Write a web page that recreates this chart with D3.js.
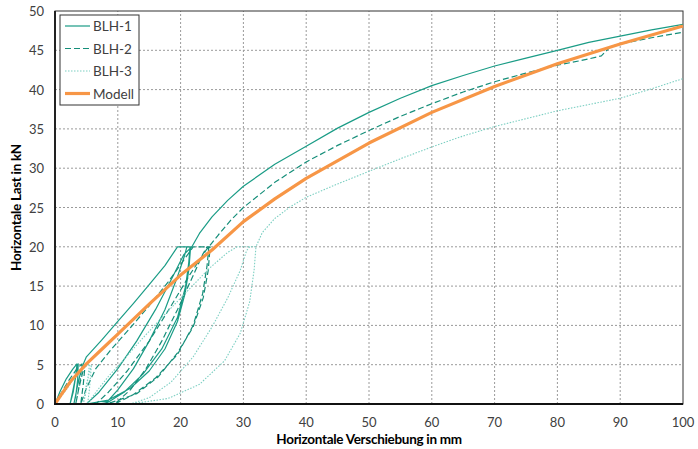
<!DOCTYPE html>
<html><head><meta charset="utf-8">
<script src="https://cdn.jsdelivr.net/npm/d3@7"></script>
<style>body{margin:0;background:#fff}svg text{font-family:Lato,"Open Sans",sans-serif}</style>
</head><body><svg id="c" width="698" height="449"></svg>
<script>
const xTicks = [0,10,20,30,40,50,60,70,80,90,100];
const yTicks = [0,5,10,15,20,25,30,35,40,45,50];
const seriesNames = ["BLH-1","BLH-2","BLH-3","Modell"];
// [displacement mm, load kN]
const blh1 = [[0,0],[0.8,1.6],[1.8,3.2],[2.8,4.4],[3.5,5.1],[3.3,3.5],[2.9,1.5],[2.4,0],
 [2.8,1.5],[3.3,3.5],[3.7,5.1],[3.6,3],[3.3,1],[3,0],
 [3.5,2],[4.2,4.5],[5,6],[7.5,8.2],[10,10.5],[12.5,12.8],[15,15.2],[17.5,17.6],[19.5,20],[21.5,20],
 [21.3,18],[20.8,15],[19.5,11],[17,7],[14,3.8],[11,1.5],[8,0],
 [10,1.8],[12.5,4.5],[15,8],[17.5,12],[19.5,16.2],[20.6,18.8],[21,20],[21.6,20],
 [21.3,17],[20.7,14],[19.5,10.5],[17.5,7],[15,4.2],[12,2],[8.5,0.5],[5,0],
 [7,1.5],[10,4.5],[13,8],[16,12],[18.5,15.8],[20.5,19],[21.8,20],[23,21.7],[25,23.8],[27.5,25.9],[30,27.7],[35,30.5],[40,32.8],[45,35.1],[50,37.1],[55,38.9],[60,40.5],[65,41.8],[70,43],[75,44],[80,45],[85,46],[90,46.8],[95,47.6],[100,48.3]];
const blh2 = [[0,0],[1,1.4],[2.2,3],[3.5,4.5],[4.3,5.1],[4,3],[3.6,1.2],[3.3,0],
 [3.8,2],[4.4,4],[4.8,5],[4.5,2.5],[4.1,0],
 [5,2],[6.5,4.5],[9,7],[12,9.7],[15,12.5],[18,15.5],[20.5,18.3],[22,20],[24.5,20],
 [24.2,17.5],[23.5,14],[22,10],[19.5,6.3],[16,3.3],[12.5,1.2],[9.5,0],
 [12,1.8],[14.5,4.5],[17,8],[19.5,12],[21.8,16],[23.5,19],[24.2,20],[24.7,20],
 [24.4,17],[23.6,13.5],[22,9.8],[19.5,6.5],[16.5,3.5],[13,1.3],[9,0.2],[6.5,0],
 [8.5,1.5],[11.5,4.2],[15,8],[18.5,12.5],[21.5,16.5],[24,19.5],[25,20.5],[26,21.5],[28,23.4],[30,25],[35,28.2],[40,30.8],[45,32.9],[50,34.8],[55,36.6],[60,38.2],[65,39.7],[70,41],[75,42.1],[80,43.1],[85,43.9],[87,44.3],[88.5,45.5],[90,45.8],[95,46.6],[100,47.3]];
const blh3 = [[0,0],[1.5,1.5],[3,3.2],[4.5,4.5],[5.5,5.1],[5.2,3],[4.8,1],[4.5,0],
 [5,2.5],[5.8,5],[5.5,2],[5.2,0],
 [6.5,1.5],[8.5,3.5],[11,5.7],[14,8.4],[17.5,11.4],[21,14.3],[24.5,17.2],[27.5,19.3],[29,20],[32,20],
 [31.7,17],[31,13],[29.5,9],[27,5.5],[23,2.5],[18,0.7],[12,0],
 [15,0.8],[18.5,2.8],[22,6],[25,9.8],[27.5,13.5],[29.5,17],[30.5,19.5],[31,20],[32,20],
 [33,21.8],[35,23.6],[37.5,25.1],[40,26.3],[45,28],[50,29.6],[55,31.2],[60,32.7],[65,34.1],[70,35.3],[75,36.3],[80,37.3],[85,38.1],[90,38.9],[95,40.1],[100,41.4]];
const modell = [[0,0],[1,1.2],[2.5,2.9],[5,5.1],[7.5,7],[10,8.9],[15,12.7],[20,16.4],[25,19.6],[30,23.2],[35,26.1],[40,28.7],[50,33.2],[60,37.1],[70,40.4],[80,43.3],[90,45.8],[100,48.1]];

const svg = d3.select("#c");
const x = d3.scaleLinear().domain([0,100]).range([55,683]);
const y = d3.scaleLinear().domain([0,50]).range([404,11]);

// grid
const g = svg.append("g");
g.selectAll(".vx").data(xTicks.slice(1,-1)).join("line")
 .attr("x1",d=>x(d)).attr("x2",d=>x(d)).attr("y1",y(0)).attr("y2",y(50))
 .attr("stroke","#9a9a9a").attr("stroke-width",1).attr("stroke-dasharray","2,2");
g.selectAll(".hy").data(yTicks.slice(1,-1)).join("line")
 .attr("y1",d=>y(d)).attr("y2",d=>y(d)).attr("x1",x(0)).attr("x2",x(100))
 .attr("stroke","#9a9a9a").attr("stroke-width",1).attr("stroke-dasharray","2,2");

// frame
svg.append("rect").attr("x",x(0)).attr("y",y(50)).attr("width",x(100)-x(0)).attr("height",y(0)-y(50))
 .attr("fill","none").attr("stroke","#333").attr("stroke-width",1);

svg.append("clipPath").attr("id","cp").append("rect").attr("x",x(0)).attr("y",y(50)-2).attr("width",x(100)-x(0)+2).attr("height",y(0)-y(50)+2);

const line = d3.line().x(d=>x(d[0])).y(d=>y(d[1]));
const styles = [
 {data:blh1,color:"#1a9c86",w:1.2,dash:null},
 {data:blh2,color:"#158e79",w:1.2,dash:"6,3"},
 {data:blh3,color:"#7ccfc2",w:1.1,dash:"1.5,1.5"},
 {data:modell,color:"#f79646",w:3.2,dash:null}
];
const pl = svg.append("g").attr("clip-path","url(#cp)");
styles.forEach(s=>{
 pl.append("path").attr("d",line(s.data)).attr("fill","none").attr("stroke",s.color)
  .attr("stroke-width",s.w).attr("stroke-dasharray",s.dash).attr("stroke-linejoin","round");
});

svg.append("line").attr("x1",x(0)).attr("x2",x(0)).attr("y1",y(0)).attr("y2",y(50)).attr("stroke","#222").attr("stroke-width",2);
svg.append("line").attr("x1",x(0)-1).attr("x2",x(100)).attr("y1",y(0)).attr("y2",y(0)).attr("stroke","#111").attr("stroke-width",2);

svg.selectAll(".xl").data(xTicks).join("text").attr("x",d=>x(d)).attr("y",427)
 .attr("text-anchor","middle").attr("font-size",13).attr("fill","#404040").text(d=>d);
svg.selectAll(".yl").data(yTicks).join("text").attr("x",44).attr("y",d=>y(d)+5)
 .attr("text-anchor","end").attr("font-size",13).attr("fill","#404040").text(d=>d);

svg.append("text").attr("x",(x(0)+x(100))/2).attr("y",444).attr("text-anchor","middle")
 .attr("font-size",13.5).attr("font-weight","bold").attr("fill","#000").attr("letter-spacing",-0.3).text("Horizontale Verschiebung in mm");
svg.append("text").attr("transform",`translate(21,${(y(0)+y(50))/2}) rotate(-90)`).attr("text-anchor","middle")
 .attr("font-size",13.5).attr("font-weight","bold").attr("fill","#000").attr("letter-spacing",-0.3).text("Horizontale Last in kN");

const lg = svg.append("g");
lg.append("rect").attr("x",60).attr("y",15).attr("width",79).attr("height",90).attr("fill","#fff").attr("stroke","#333").attr("stroke-width",1);
styles.forEach((s,i)=>{
 const yy = 26 + i*22.5;
 lg.append("line").attr("x1",65).attr("x2",90).attr("y1",yy).attr("y2",yy).attr("stroke",s.color)
  .attr("stroke-width",s.w).attr("stroke-dasharray",s.dash);
 lg.append("text").attr("x",93).attr("y",yy+5).attr("font-size",13.5).attr("fill","#404040").text(seriesNames[i]);
});
</script></body></html>
